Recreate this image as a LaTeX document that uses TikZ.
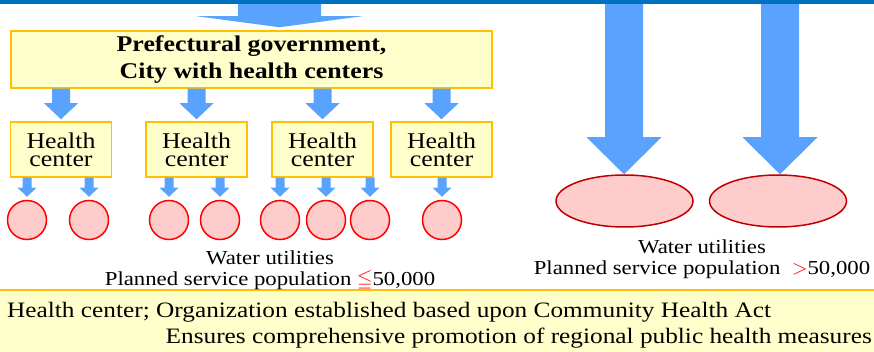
\documentclass[tikz,border=0pt]{standalone}
\usepackage{amsmath, amssymb}
\usepackage{fontspec}
\setmainfont{Liberation Serif}[FakeStretch=1.15]
\usepackage{tikz}
\usetikzlibrary{calc, shapes.geometric}

\definecolor{arrowblue}{RGB}{89,163,255}
\definecolor{boxfill}{RGB}{255,255,204}
\definecolor{boxline}{RGB}{255,192,0}
\definecolor{wufill}{RGB}{255,204,204}
\definecolor{wuline}{RGB}{192,0,0}
\definecolor{topline}{RGB}{0,112,192}

% block arrow: #1 start, #2 tip, #3 half shaft, #4 half head, #5 head length
\newcommand{\blockarrow}[5]{%
  \fill[arrowblue] let \p1=(#1), \p2=(#2) in
    (\x1-#3,\y1) -- (\x1+#3,\y1) -- (\x1+#3,\y2+#5) -- (\x1+#4,\y2+#5)
    -- (\x1,\y2) -- (\x1-#4,\y2+#5) -- (\x1-#3,\y2+#5) -- cycle;}

\begin{document}
\begin{tikzpicture}[x=1pt, y=-1pt,
    govbox/.style={draw=boxline, fill=boxfill, line width=1.5pt, inner sep=0pt,
      minimum width=481pt, minimum height=57pt, align=center,
      font=\bfseries\fontsize{22.5}{27}\selectfont},
    hcbox/.style={draw=boxline, fill=boxfill, line width=1.5pt, inner sep=0pt,
      minimum width=101pt, minimum height=55pt, align=center,
      font=\fontsize{22.5}{18}\selectfont},
    small/.style={circle, draw=red, fill=wufill, line width=1.5pt,
      inner sep=0pt, minimum size=39pt},
    large/.style={ellipse, draw=wuline, fill=wufill, line width=1.5pt,
      inner sep=0pt, minimum width=137pt, minimum height=52pt},
    caption/.style={align=center, inner sep=0pt,
      font=\fontsize{19.8}{21}\selectfont},
    note/.style={inner sep=0pt, font=\fontsize{22}{26}\selectfont}]
    \useasboundingbox (0,0) rectangle (874,352);

    % --- 1. Bottom band ---
    \fill[boxfill] (0,290) rectangle (874,352);
    \draw[boxline, line width=1.5pt] (0,290) -- (874,290);
    \node[note, anchor=west] (note1) at (7,312)
      {Health center; Organization established based upon Community Health Act};
    \node[note, anchor=east] (note2) at (872,338)
      {Ensures comprehensive promotion of regional public health measures};

    % --- 2. Government and health centers ---
    \node[govbox] (gov) at (251.5,59.5) {Prefectural government,\\City with health centers};
    \node[hcbox] (hc1) at (61,149.5) {Health\\center};
    \node[hcbox] (hc2) at (196.5,149.5) {Health\\center};
    \node[hcbox] (hc3) at (322.5,149.5) {Health\\center};
    \node[hcbox] (hc4) at (441.5,149.5) {Health\\center};

    % --- 3. Small water utilities ---
    \foreach \i/\x in {1/27, 2/89, 3/169, 4/220, 5/280, 6/326, 7/370, 8/442}
      \node[small] (w\i) at (\x,220) {};
    \node[caption] (capl) at (270,270.5)
      {Water utilities\\Planned service population \textcolor{red}{$\leqq$}50,000};

    % --- 4. Large water utilities ---
    \node[large] (wb1) at (624.5,201) {};
    \node[large] (wb2) at (778,201) {};
    \node[caption] (capr) at (702,259)
      {Water utilities\\Planned service population \ \textcolor{red}{$>$}50,000};

    % --- 5. Arrows ---
    \coordinate (topl) at (279.5,4);
    \coordinate (topr1) at (624,4);
    \coordinate (topr2) at (780,4);
    \blockarrow{topl}{$(topl |- gov.north)+(0,3pt)$}{41.5pt}{82.5pt}{11pt}
    \foreach \h in {1,2,3,4}{
      \blockarrow{gov.south -| hc\h}{$(hc\h.north)+(0,2pt)$}{9pt}{17pt}{16pt}}
    \foreach \h/\w in {1/1, 1/2, 2/3, 2/4, 3/5, 3/6, 3/7, 4/8}{
      \blockarrow{hc\h.south -| w\w}{$(w\w.north)+(0,3pt)$}{4.5pt}{9.5pt}{9pt}}
    \blockarrow{topr1}{wb1.north}{19pt}{37.5pt}{37pt}
    \blockarrow{topr2}{wb2.north}{19pt}{37.5pt}{37pt}

    % --- 6. Top rule ---
    \fill[topline] (0,0.5) rectangle (874,4);
\end{tikzpicture}
\end{document}
